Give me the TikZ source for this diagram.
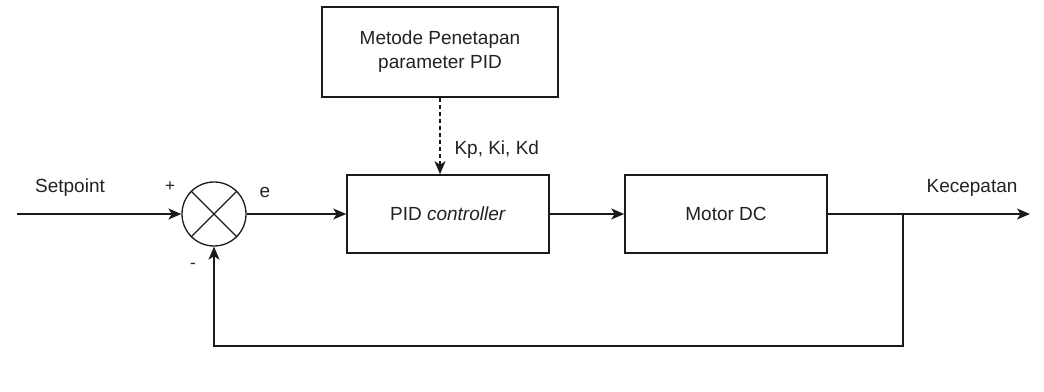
\documentclass[tikz,border=0pt]{standalone}
\usepackage{fontspec}
\setmainfont{Liberation Sans}
\usepackage{tikz}
\usetikzlibrary{arrows.meta, positioning, calc}
\definecolor{linedark}{HTML}{1A1A1A}
\definecolor{textdark}{HTML}{222222}
\tikzstyle{block} = [rectangle, draw=linedark, line width=1.6pt, fill=white, text=textdark, align=center, font=\fontsize{19}{24}\selectfont]
\tikzstyle{arrow} = [-{Stealth[length=13pt, width=11pt, inset=3.5pt]}, line width=1.6pt, color=linedark]

\begin{document}
\begin{tikzpicture}[
    x=1pt, y=1pt,
    every node/.style={font=\fontsize{19}{24}\selectfont, text=textdark},
    loopblock/.style={block, minimum width=202pt, minimum height=78pt},
    tuneblock/.style={block, minimum width=236pt, minimum height=90pt},
    sumnode/.style={circle, draw=linedark, line width=1.3pt, minimum size=64pt, inner sep=0pt},
    sign/.style={font=\fontsize{17}{20}\selectfont},
    arr/.style={arrow},
    dasharr/.style={arrow, dash pattern=on 4pt off 3pt}
  ]
    \useasboundingbox (0,0) rectangle (1044,391);

    % Forward path
    \coordinate (in) at (17,177);
    \node[sumnode] (sum) at (214,177) {};
    \draw[line width=1.3pt, color=linedark] (sum.45) -- (sum.225) (sum.135) -- (sum.315);
    \node[loopblock] (pid) at (448,177) {PID \textit{controller}};
    \node[loopblock] (motor) at (726,177) {Motor DC};
    \coordinate (junc) at (903,177);
    \coordinate (out) at (1030,177);

    \draw[arr] (in) -- (sum.west);
    \draw[arr] (sum.east) -- (pid.west);
    \draw[arr] (pid.east) -- (motor.west);
    \draw[arr] (motor.east) -- (out);

    % Tuning block above the controller
    \node[tuneblock] (metode) at (440,339) {Metode Penetapan\\parameter PID};
    \draw[dasharr] (metode.south) -- (metode.south |- pid.north);

    % Feedback path
    \draw[arr] (junc) -- ++(0,-132) -| (sum.south);

    % Labels
    \node (setpoint) at (70,203) {Setpoint};
    \node[sign] (plus) at (170,204) {+};
    \node (err) at (265,199) {e};
    \node[sign] (minus) at (193,125) {-};
    \node[anchor=west] (gains) at (451,241) {Kp, Ki, Kd};
    \node (speed) at (972,203) {Kecepatan};
  \end{tikzpicture}
\end{document}
